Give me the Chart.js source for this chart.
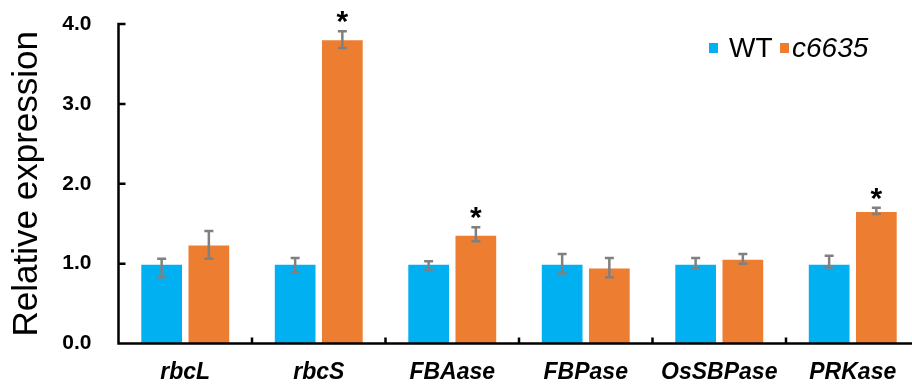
<!DOCTYPE html>
<html>
<head>
<meta charset="utf-8">
<script src="https://cdn.jsdelivr.net/npm/chart.js@4"></script>
<style>
  html, body { margin: 0; padding: 0; background: #fff; overflow: hidden; }
  #wrap { position: relative; width: 924px; height: 384px; }
</style>
</head>
<body>
<div id="wrap"><canvas id="c"></canvas></div>
<script>
// Genes measured by qRT-PCR
const categories = ['rbcL', 'rbcS', 'FBAase', 'FBPase', 'OsSBPase', 'PRKase'];
const seriesNames = ['WT', 'c6635'];

// Mean relative expression
const wtValues = [1.00, 1.00, 1.00, 1.00, 1.00, 1.00];
const mutantValues = [1.24, 3.81, 1.36, 0.95, 1.06, 1.66];

// Error bar ends
const wtUpper = [1.06, 1.07, 1.03, 1.12, 1.07, 1.10];
const wtLower = [0.83, 0.89, 0.92, 0.875, 0.94, 0.95];
const mutantUpper = [1.41, 3.91, 1.455, 1.07, 1.12, 1.70];
const mutantLower = [1.06, 3.70, 1.28, 0.83, 1.00, 1.62];

// Significant difference from WT
const significant = [false, true, true, false, false, true];

// Y axis ticks
const yTicks = [0, 1, 2, 3, 4];

const BLUE = '#00b0f0';
const ORANGE = '#ed7d31';
const FONT = '"Liberation Sans", Arial, Helvetica, sans-serif';

const overlay = {
  id: 'overlay',
  afterDatasetsDraw(chart) {
    const { ctx, chartArea: a, scales: { x, y } } = chart;
    ctx.save();

    // error bars
    const sets = [[0, wtUpper, wtLower], [1, mutantUpper, mutantLower]];
    ctx.strokeStyle = '#808080';
    ctx.lineWidth = 2.5;
    ctx.lineCap = 'butt';
    sets.forEach(([di, up, lo]) => {
      chart.getDatasetMeta(di).data.forEach((bar, i) => {
        const cx = bar.x;
        const yt = y.getPixelForValue(up[i]);
        const yb = y.getPixelForValue(lo[i]);
        ctx.beginPath();
        ctx.moveTo(cx, yt); ctx.lineTo(cx, yb);
        ctx.moveTo(cx - 4.5, yt); ctx.lineTo(cx + 4.5, yt);
        ctx.moveTo(cx - 4.5, yb); ctx.lineTo(cx + 4.5, yb);
        ctx.stroke();
      });
    });

    // significance marks
    ctx.fillStyle = '#000';
    ctx.font = 'bold 30px ' + FONT;
    ctx.textAlign = 'center';
    ctx.textBaseline = 'alphabetic';
    const m = ctx.measureText('*');
    const glyphMid = (m.actualBoundingBoxAscent - m.actualBoundingBoxDescent) / 2;
    chart.getDatasetMeta(1).data.forEach((bar, i) => {
      if (!significant[i]) return;
      const cy = y.getPixelForValue(mutantUpper[i]) - 14;
      ctx.fillText('*', bar.x, cy + glyphMid);
    });

    // axes
    const y0 = y.getPixelForValue(0);
    const yTop = y.getPixelForValue(yTicks[yTicks.length - 1]);
    ctx.strokeStyle = '#000';
    ctx.lineWidth = 2.5;
    ctx.beginPath();
    ctx.moveTo(a.left, yTop - 1.25);
    ctx.lineTo(a.left, y0);
    ctx.lineTo(a.right + 5, y0);
    // y ticks pointing inward
    yTicks.forEach(v => {
      if (v === 0) return;
      const py = y.getPixelForValue(v);
      ctx.moveTo(a.left, py);
      ctx.lineTo(a.left + 7, py);
    });
    // x ticks between categories
    const step = (a.right - a.left) / categories.length;
    for (let i = 1; i <= categories.length; i++) {
      const px = a.left + step * i;
      ctx.moveTo(px, y0);
      ctx.lineTo(px, y0 - 6);
    }
    ctx.stroke();

    // legend
    ctx.textAlign = 'left';
    ctx.textBaseline = 'middle';
    ctx.fillStyle = BLUE;
    ctx.fillRect(709, 43, 9, 10);
    ctx.fillStyle = ORANGE;
    ctx.fillRect(780, 43, 9, 10);
    ctx.fillStyle = '#000';
    ctx.font = '28px ' + FONT;
    ctx.fillText(seriesNames[0], 729, 49);
    ctx.font = 'italic 28px ' + FONT;
    ctx.fillText(seriesNames[1], 792, 49);

    ctx.restore();
  }
};

new Chart(document.getElementById('c'), {
  type: 'bar',
  data: {
    labels: categories,
    datasets: [
      { label: seriesNames[0], data: wtValues, backgroundColor: BLUE,
        borderColor: 'rgba(255,255,255,0.55)', borderWidth: 1 },
      { label: seriesNames[1], data: mutantValues, backgroundColor: ORANGE,
        borderColor: 'rgba(255,255,255,0.55)', borderWidth: 1 }
    ]
  },
  options: {
    responsive: true,
    maintainAspectRatio: false,
    animation: false,
    devicePixelRatio: 1,
    layout: { padding: { top: 24, right: 4.5, bottom: 0, left: 0 } },
    datasets: { bar: { categoryPercentage: 0.707, barPercentage: 0.905 } },
    plugins: { legend: { display: false }, tooltip: { enabled: false } },
    scales: {
      x: {
        grid: { display: false, drawTicks: false },
        border: { display: false },
        ticks: {
          color: '#000', padding: 15, maxRotation: 0, autoSkip: false,
          font: { family: FONT, size: 23, style: 'italic', weight: 'bold' }
        },
        afterFit(s) {
          s.height = 40.5;
          s.paddingLeft = 0; s.paddingRight = 0; s.paddingTop = 0; s.paddingBottom = 0;
        }
      },
      y: {
        min: 0, max: 4,
        grid: { display: false, drawTicks: false },
        border: { display: false },
        afterBuildTicks(s) { s.ticks = yTicks.map(v => ({ value: v })); },
        ticks: {
          color: '#000', padding: 27,
          font: { family: FONT, size: 21, weight: 'bold' },
          callback: v => Number(v).toFixed(1)
        },
        title: {
          display: true, text: 'Relative expression', color: '#000',
          font: { family: FONT, size: 35 }, padding: { top: 6, bottom: 0 }
        },
        afterFit(s) {
          s.width = 118.5;
          s.paddingTop = 0; s.paddingBottom = 0; s.paddingLeft = 0; s.paddingRight = 0;
        }
      }
    }
  },
  plugins: [overlay]
});
</script>
</body>
</html>
